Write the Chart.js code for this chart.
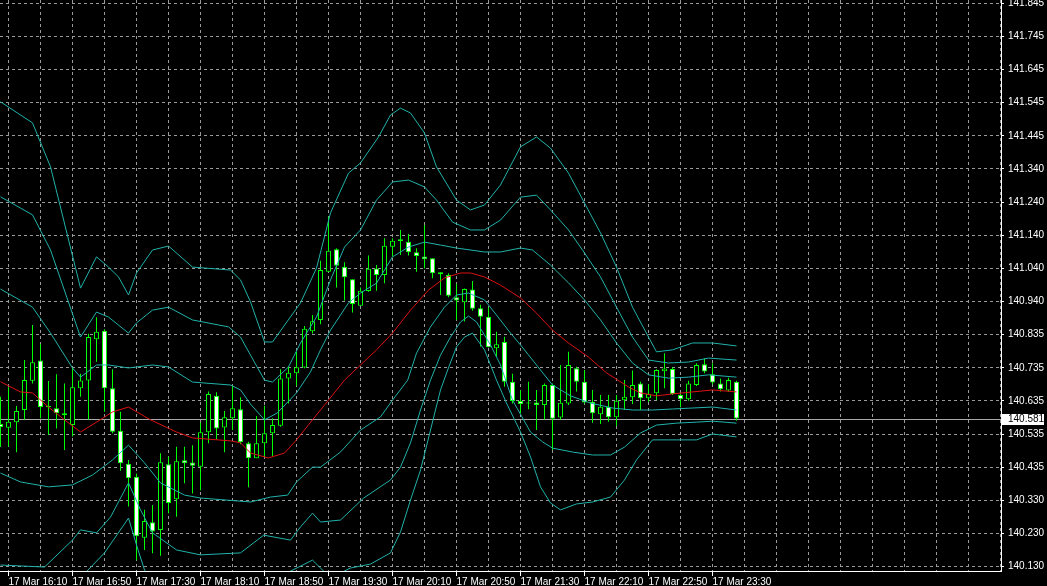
<!DOCTYPE html>
<html>
<head>
<meta charset="utf-8">
<title>17 Mar M5</title>
<script src="https://cdn.jsdelivr.net/npm/chart.js@4.4.1/dist/chart.umd.min.js"></script>
<style>
  html, body { margin: 0; padding: 0; background: #000; overflow: hidden; }
  canvas { display: block; }
</style>
</head>
<body>
<canvas id="chart" width="1047" height="586"></canvas>
<script>
// 5 minute bars, numbered from 17 Mar 16:10 (= bar 0); first visible bar is 16:05 (= bar -1)
const firstBar = -1;

const candleOpen = [
  140.564, 140.553, 140.570, 140.607, 140.696, 140.758, 140.619, 140.612, 140.597, 140.561,
  140.673, 140.697, 140.822, 140.848, 140.673, 140.544, 140.443, 140.404, 140.218, 140.265,
  140.242, 140.442, 140.335, 140.454, 140.447, 140.434, 140.539, 140.650, 140.554, 140.582,
  140.609, 140.506, 140.460, 140.506, 140.536, 140.559, 140.703, 140.719, 140.736, 140.847,
  140.881, 141.028, 141.096, 141.043, 141.005, 140.924, 140.969, 141.038, 141.018, 141.104,
  141.127, 141.119, 141.087, 141.074, 141.069, 141.026, 141.018, 140.950, 140.935, 140.974,
  140.917, 140.891, 140.795, 140.814, 140.693, 140.634, 140.630, 140.630, 140.622, 140.683,
  140.584, 140.627, 140.734, 140.693, 140.632, 140.594, 140.617, 140.585, 140.637, 140.646,
  140.688, 140.643, 140.658, 140.725, 140.732, 140.653, 140.640, 140.683, 140.746, 140.716,
  140.688, 140.666, 140.693
];
const candleHigh = [
  140.647, 140.676, 140.619, 140.759, 140.866, 140.807, 140.695, 140.716, 140.688, 140.734,
  140.717, 140.839, 140.889, 140.853, 140.731, 140.602, 140.455, 140.414, 140.303, 140.318,
  140.475, 140.465, 140.495, 140.495, 140.500, 140.568, 140.663, 140.661, 140.604, 140.681,
  140.646, 140.510, 140.589, 140.620, 140.582, 140.731, 140.739, 140.784, 140.863, 140.896,
  141.061, 141.195, 141.099, 141.057, 141.005, 140.980, 141.077, 141.048, 141.130, 141.130,
  141.155, 141.143, 141.099, 141.170, 141.069, 141.026, 141.023, 140.991, 140.977, 141.000,
  140.927, 140.920, 140.845, 140.830, 140.717, 140.668, 140.693, 140.668, 140.688, 140.688,
  140.744, 140.784, 140.739, 140.729, 140.668, 140.653, 140.653, 140.653, 140.698, 140.727,
  140.693, 140.685, 140.731, 140.780, 140.737, 140.658, 140.696, 140.749, 140.764, 140.749,
  140.703, 140.705, 140.696
];
const candleLow = [
  140.494, 140.495, 140.478, 140.577, 140.688, 140.582, 140.531, 140.551, 140.485, 140.526,
  140.647, 140.577, 140.754, 140.602, 140.536, 140.422, 140.313, 140.150, 140.181, 140.171,
  140.163, 140.293, 140.282, 140.384, 140.353, 140.363, 140.506, 140.518, 140.478, 140.546,
  140.503, 140.372, 140.460, 140.465, 140.467, 140.556, 140.627, 140.681, 140.734, 140.840,
  140.868, 141.028, 140.980, 140.940, 140.904, 140.924, 140.967, 140.970, 140.993, 141.074,
  141.079, 141.077, 141.028, 141.038, 141.008, 140.957, 140.950, 140.881, 140.876, 140.909,
  140.800, 140.798, 140.769, 140.678, 140.627, 140.597, 140.609, 140.546, 140.577, 140.485,
  140.577, 140.622, 140.663, 140.627, 140.568, 140.564, 140.571, 140.558, 140.607, 140.625,
  140.607, 140.632, 140.637, 140.673, 140.653, 140.615, 140.635, 140.680, 140.719, 140.685,
  140.663, 140.663, 140.574
];
const candleClose = [
  140.555, 140.571, 140.604, 140.698, 140.752, 140.616, 140.615, 140.597, 140.591, 140.676,
  140.697, 140.829, 140.845, 140.673, 140.541, 140.445, 140.399, 140.223, 140.269, 140.237,
  140.448, 140.324, 140.451, 140.445, 140.437, 140.539, 140.656, 140.551, 140.585, 140.612,
  140.509, 140.460, 140.506, 140.536, 140.561, 140.703, 140.720, 140.737, 140.854, 140.877,
  141.033, 141.092, 141.046, 141.011, 140.930, 140.970, 141.037, 141.018, 141.107, 141.122,
  141.121, 141.087, 141.076, 141.066, 141.023, 141.020, 140.955, 140.940, 140.975, 140.915,
  140.891, 140.798, 140.807, 140.693, 140.634, 140.625, 140.627, 140.622, 140.683, 140.580,
  140.629, 140.744, 140.693, 140.630, 140.597, 140.617, 140.585, 140.635, 140.647, 140.683,
  140.643, 140.656, 140.729, 140.733, 140.656, 140.640, 140.688, 140.744, 140.724, 140.691,
  140.670, 140.698, 140.581
];

// indicator lines, [bar, price]
const maLine = [
  [-1,140.693],[1.5,140.662],[3,140.659],[5,140.616],[7,140.577],[9,140.540],[11,140.570],[13,140.601],
  [15,140.616],[17.75,140.577],[21,140.540],[23,140.522],[27.75,140.513],[29,140.507],[30.25,140.476],
  [32.5,140.461],[34.5,140.476],[36,140.516],[38,140.577],[40,140.637],[42,140.698],[46,140.790],
  [48,140.841],[50.25,140.911],[52.5,140.972],[54.5,141.009],[56.5,141.024],[57.75,141.024],[59.5,141.012],
  [61.5,140.987],[64,140.948],[66,140.902],[68,140.850],[70,140.811],[72.5,140.768],[74.75,140.720],
  [77.5,140.677],[79,140.659],[81,140.650],[83,140.656],[85.5,140.662],[88,140.668],[91,140.662]
];
const bandUp3 = [
  [-1,141.545],[3,141.481],[5.25,141.347],[9,140.978],[11,141.073],[12.5,141.042],[13.75,141.012],
  [15,140.957],[16,141.024],[18,141.094],[20,141.106],[23,141.042],[27.75,141.033],[29,141.003],
  [30.25,140.936],[32,140.814],[33,140.814],[36.5,140.933],[38.5,141.039],[40.25,141.207],[42.5,141.328],
  [44,141.359],[46.25,141.438],[47.75,141.505],[49,141.526],[50.25,141.511],[52,141.450],[53.5,141.347],
  [56,141.246],[57.75,141.216],[59.5,141.231],[61.5,141.292],[64,141.408],[66,141.438],[67.75,141.404],
  [70,141.328],[72,141.237],[74,141.146],[76,141.042],[78,140.920],[80,140.829],[81,140.784],
  [83,140.790],[85.5,140.811],[88,140.811],[91,140.802]
];
const bandUp2 = [
  [-1,141.256],[3,141.201],[5.25,141.094],[9,140.829],[11,140.905],[12.5,140.890],[15,140.841],
  [16,140.872],[18,140.911],[20,140.920],[23,140.881],[27.5,140.860],[29,140.829],[30.25,140.774],
  [32,140.698],[33,140.692],[35,140.738],[36.5,140.811],[38.5,140.890],[40.25,141.003],[42,141.103],
  [44,141.155],[46,141.246],[48,141.301],[50,141.307],[52,141.286],[53.5,141.246],[55.5,141.179],
  [57.75,141.155],[59.5,141.155],[61.5,141.185],[64,141.255],[66,141.261],[67.75,141.216],[70,141.155],
  [72,141.085],[74,141.012],[76,140.920],[78,140.829],[80,140.759],[82.5,140.750],[85,140.753],
  [87.5,140.765],[91,140.759]
];
const bandUp1 = [
  [-1,140.975],[3,140.920],[5.25,140.841],[8,140.735],[9,140.707],[11,140.744],[12.5,140.744],
  [15,140.735],[18,140.744],[20,140.738],[23,140.692],[27.75,140.683],[29,140.668],[30.25,140.625],
  [32,140.577],[33.6,140.598],[36,140.659],[37.75,140.723],[39,140.790],[40.25,140.850],[42.5,140.933],
  [44,140.963],[46,140.993],[48,141.073],[50,141.103],[52,141.118],[54,141.109],[56,141.100],
  [59.5,141.088],[61.5,141.088],[64,141.100],[65.5,141.094],[67.75,141.048],[70,140.994],[72,140.942],
  [74,140.881],[76,140.811],[78,140.750],[80,140.714],[82.5,140.704],[85,140.707],[87.5,140.714],
  [91,140.707]
];
const bandLow1 = [
  [-1,140.415],[1.5,140.388],[5,140.373],[8,140.379],[10.5,140.409],[13,140.455],[15,140.500],
  [17,140.446],[19,140.385],[22,140.348],[24,140.339],[30.25,140.327],[32.75,140.342],[34.9,140.348],
  [36,140.388],[38,140.433],[39,140.433],[41.5,140.479],[44,140.546],[46.5,140.586],[48,140.637],
  [49.9,140.698],[51,140.780],[52.75,140.860],[54.5,140.920],[56,140.957],[57.5,140.963],[59.5,140.942],
  [61,140.896],[62.75,140.841],[64,140.805],[66,140.744],[68,140.683],[70.25,140.650],[72.75,140.628],
  [75.5,140.613],[78,140.607],[80.5,140.607],[83,140.610],[85.5,140.613],[88,140.616],[91,140.607]
];
const bandLow2 = [
  [-1,140.135],[4.5,140.129],[8,140.211],[9,140.242],[11,140.233],[12.75,140.281],[15,140.385],
  [16.5,140.303],[18,140.233],[21,140.181],[24,140.166],[29,140.172],[31.9,140.226],[35.25,140.211],
  [36.5,140.251],[38,140.293],[39,140.266],[41.5,140.272],[44.4,140.339],[47.75,140.394],[49,140.433],
  [50.25,140.507],[51.5,140.607],[52.75,140.698],[54,140.774],[55.25,140.829],[56.5,140.875],
  [57.5,140.893],[58.5,140.875],[60.25,140.805],[61.5,140.744],[63,140.637],[65.25,140.540],
  [66.75,140.510],[68,140.491],[70.5,140.479],[73,140.470],[75.25,140.470],[77,140.494],[79,140.537],
  [81,140.561],[83.5,140.567],[86,140.570],[88,140.573],[91,140.567]
];
const bandLow3 = [
  [-1,139.840],[5,139.886],[9,140.096],[12,140.172],[15,140.278],[16,140.196],[17,140.120],[20,140.029],
  [24,139.998],[29,140.013],[33,140.089],[38,140.150],[40.25,140.096],[42.75,140.126],[45.25,140.138],
  [47.75,140.172],[49,140.236],[50.25,140.333],[51.5,140.424],[52.75,140.546],[54,140.668],[54.9,140.729],
  [56,140.799],[57,140.829],[58,140.841],[59.5,140.790],[61,140.698],[62.25,140.628],[64,140.540],
  [65.25,140.464],[66.5,140.373],[67.75,140.324],[69,140.303],[71,140.321],[73,140.327],[75.25,140.342],
  [77,140.394],[78.5,140.455],[80.5,140.516],[83.5,140.516],[86,140.516],[88,140.534],[91,140.525]
];

// axis text
const timeLabels = ['17 Mar 16:10', '17 Mar 16:50', '17 Mar 17:30', '17 Mar 18:10', '17 Mar 18:50', '17 Mar 19:30',
  '17 Mar 20:10', '17 Mar 20:50', '17 Mar 21:30', '17 Mar 22:10', '17 Mar 22:50', '17 Mar 23:30'];
const priceLabels = ['140.130', '140.230', '140.330', '140.435', '140.535', '140.635', '140.735', '140.835', '140.940',
  '141.040', '141.140', '141.240', '141.340', '141.445', '141.545', '141.645', '141.745', '141.845'];

const labelStep = 8;   // bars between time labels
const gridStep = 4;    // bars between vertical grid lines
const lastPrice = candleClose[candleClose.length - 1];

const GREEN = '#00ff00';
const BAND = '#20b2aa';
const GRID = '#9a9a9a';

Chart.defaults.font.family = "'Liberation Sans', Arial, sans-serif";
Chart.defaults.font.size = 10;
Chart.defaults.color = '#ffffff';

const bars = candleOpen.map((o, i) => ({
  n: firstBar + i, o: o, h: candleHigh[i], l: candleLow[i], c: candleClose[i]
}));

const toPts = arr => arr.map(p => ({ x: p[0], y: p[1] }));
const lineDs = (data, color) => ({
  type: 'line', data: toPts(data), borderColor: color, borderWidth: 1,
  pointRadius: 0, fill: false, tension: 0, order: 0
});

const isLabelled = v => v % labelStep === 0 && v >= 0 && timeLabels[v / labelStep] !== undefined;

// price line + price box at the right
const priceTag = {
  id: 'priceTag',
  beforeDatasetsDraw(chart) {
    const { ctx, chartArea, scales } = chart;
    const y = Math.round(scales.y.getPixelForValue(lastPrice)) + 0.5;
    ctx.save();
    ctx.strokeStyle = '#a8a8a8';
    ctx.lineWidth = 1;
    ctx.beginPath();
    ctx.moveTo(chartArea.left, y);
    ctx.lineTo(chartArea.right, y);
    ctx.stroke();
    ctx.restore();
  },
  afterDraw(chart) {
    const { ctx, chartArea, scales } = chart;
    const y = Math.round(scales.y.getPixelForValue(lastPrice));
    ctx.save();
    ctx.fillStyle = '#ffffff';
    ctx.fillRect(chartArea.right + 1, y - 5, 42, 11);
    ctx.fillStyle = '#000000';
    ctx.font = "10px 'Liberation Sans', Arial, sans-serif";
    ctx.textAlign = 'left';
    ctx.textBaseline = 'middle';
    ctx.fillText(lastPrice.toFixed(3), chartArea.right + 7, y + 0.5);
    ctx.restore();
  }
};

const yLo = parseFloat(priceLabels[0]);
const yHi = parseFloat(priceLabels[priceLabels.length - 1]);

new Chart(document.getElementById('chart'), {
  type: 'bar',
  data: {
    datasets: [
      lineDs(maLine, '#dd1111'),
      lineDs(bandUp3, BAND), lineDs(bandUp2, BAND), lineDs(bandUp1, BAND),
      lineDs(bandLow1, BAND), lineDs(bandLow2, BAND), lineDs(bandLow3, BAND),
      {
        type: 'bar',
        data: bars.map(b => ({ x: b.n, y: [b.o, b.c] })),
        backgroundColor: bars.map(b => b.c < b.o ? '#ffffff' : '#000000'),
        borderColor: GREEN, borderWidth: 1, borderSkipped: false,
        grouped: false, maxBarThickness: 5, minBarLength: 1, inflateAmount: 0, order: 1
      },
      {
        type: 'bar',
        data: bars.map(b => ({ x: b.n, y: [b.l, b.h] })),
        backgroundColor: GREEN, borderWidth: 0,
        grouped: false, maxBarThickness: 1, inflateAmount: 0, order: 2
      }
    ]
  },
  plugins: [priceTag],
  options: {
    responsive: false,
    devicePixelRatio: 1,
    animation: false,
    events: [],
    layout: { padding: 0 },
    plugins: { legend: { display: false }, tooltip: { enabled: false } },
    scales: {
      x: {
        type: 'linear', min: -1.0625, max: 124.0625, offset: false, bounds: 'data',
        grid: {
          color: GRID, offset: false, tickLength: 5,
          tickColor: c => (c.tick && isLabelled(c.tick.value)) ? '#ffffff' : 'rgba(0,0,0,0)'
        },
        border: { display: true, color: '#ffffff', width: 1, dash: [3, 3] },
        ticks: {
          autoSkip: false, maxRotation: 0, minRotation: 0, align: 'start', padding: 0, color: '#ffffff',
          callback: v => isLabelled(v) ? timeLabels[v / labelStep] : ''
        },
        afterBuildTicks: s => {
          const t = [];
          for (let v = 0; v <= s.max; v += gridStep) t.push({ value: v });
          s.ticks = t;
        },
        afterFit: s => { s.height = 15; s.paddingLeft = 0; s.paddingRight = 0; }
      },
      y: {
        type: 'linear', position: 'right', min: 140.1169, max: 141.855, bounds: 'data', beginAtZero: false,
        grid: { color: GRID, tickLength: 3, tickColor: '#ffffff' },
        border: { display: true, color: '#ffffff', width: 1, dash: [3, 3] },
        ticks: { autoSkip: false, padding: 4, color: '#ffffff', callback: (v, i) => priceLabels[i] },
        afterBuildTicks: s => {
          const step = (yHi - yLo) / (priceLabels.length - 1);
          s.ticks = priceLabels.map((lbl, i) => ({ value: yLo + i * step }));
        },
        afterFit: s => { s.width = 46; s.paddingTop = 0; s.paddingBottom = 0; }
      }
    }
  }
});
</script>
</body>
</html>
